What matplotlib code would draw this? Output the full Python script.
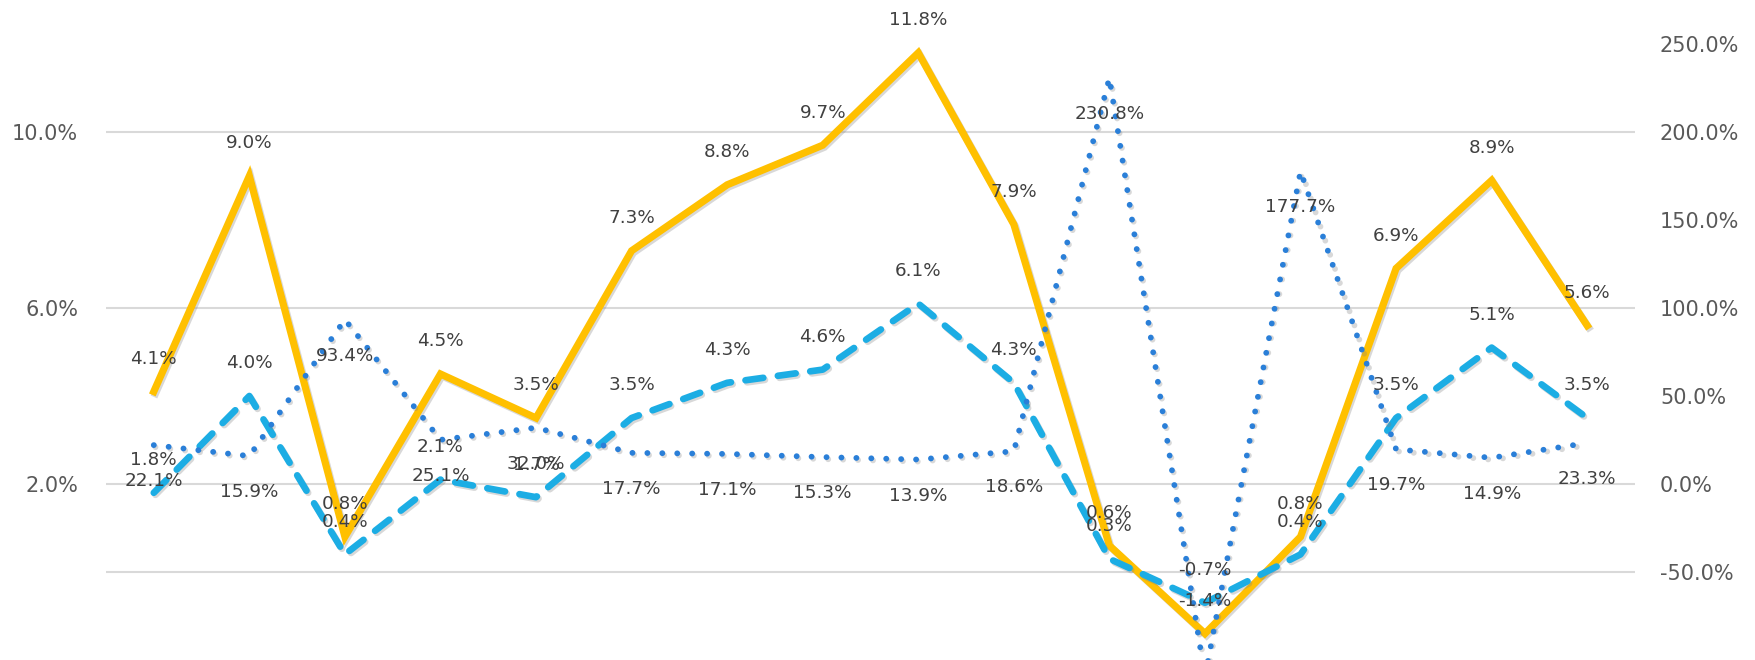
import matplotlib.pyplot as plt
import matplotlib.patheffects as pe
from matplotlib.ticker import FuncFormatter

plt.rcParams['font.family'] = ['DejaVu Sans']

# chart values
periods = list(range(16))
growth_a = [4.1, 9.0, 0.8, 4.5, 3.5, 7.3, 8.8, 9.7, 11.8, 7.9, 0.6, -1.4, 0.8, 6.9, 8.9, 5.6]
growth_b = [1.8, 4.0, 0.4, 2.1, 1.7, 3.5, 4.3, 4.6, 6.1, 4.3, 0.3, -0.7, 0.4, 3.5, 5.1, 3.5]
change_c = [22.1, 15.9, 93.4, 25.1, 32.0, 17.7, 17.1, 15.3, 13.9, 18.6, 230.8, -109.7, 177.7, 19.7, 14.9, 23.3]
left_ticks = [2, 6, 10]
right_ticks = [-50, 0, 50, 100, 150, 200, 250]

fig = plt.figure(figsize=(17.56, 6.6), dpi=100)
ax1 = fig.add_axes([106 / 1756, 0, 1529 / 1756, 1])
ax2 = ax1.twinx()

shadow = [pe.SimpleLineShadow(offset=(1.2, -1.5), shadow_color='gray', alpha=0.3), pe.Normal()]

ax1.plot(periods, growth_a, color='#FFC000', lw=5.2, solid_joinstyle='miter',
         path_effects=shadow, zorder=3)
ax1.plot(periods, growth_b, color='#1CADE4', lw=4.8, dashes=(2.7, 2.2),
         dash_capstyle='round', path_effects=shadow, zorder=4)
ax2.plot(periods, change_c, color='#2A7FD8', lw=4.2, dashes=(0.01, 2.55),
         dash_capstyle='round', path_effects=shadow, zorder=3)

ax1.set_xlim(-0.5, 15.5)
ax1.set_ylim(-2, 13)
ax2.set_ylim(-100, 275)
ax1.set_xticks([])
ax1.set_yticks(left_ticks)
ax2.set_yticks(right_ticks)

pct = FuncFormatter(lambda v, _: f"{v:.1f}%")
ax1.yaxis.set_major_formatter(pct)
ax2.yaxis.set_major_formatter(pct)
ax1.tick_params(axis='y', length=0, pad=20, labelsize=15, labelcolor='#595959')
ax2.tick_params(axis='y', length=0, pad=18, labelsize=15, labelcolor='#595959')

ax1.grid(axis='y', color='#D9D9D9', lw=1.5)
ax1.set_axisbelow(True)
ax1.axhline(0, color='#D9D9D9', lw=1.5, zorder=1)

for ax in (ax1, ax2):
    for s in ax.spines.values():
        s.set_visible(False)

# data labels, drawn on the top axes so nothing covers them
lab = dict(ha='center', va='center', fontsize=13.2, color='#404040', zorder=10)
for x, v in zip(periods, growth_a):
    ax2.annotate(f"{v:.1f}%", (x, v), xycoords=ax1.transData,
                 xytext=(0, 23.5), textcoords='offset points', **lab)
for x, v in zip(periods, growth_b):
    ax2.annotate(f"{v:.1f}%", (x, v), xycoords=ax1.transData,
                 xytext=(0, 23.5), textcoords='offset points', **lab)
for x, v in zip(periods, change_c):
    ax2.annotate(f"{v:.1f}%", (x, v), xytext=(0, -26),
                 textcoords='offset points', **lab)

fig.savefig('out.png', dpi=100)
